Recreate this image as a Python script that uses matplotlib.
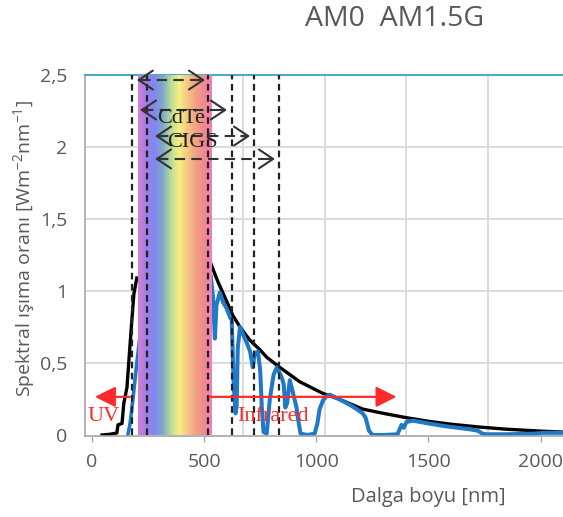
import matplotlib
matplotlib.use("Agg")
import matplotlib.pyplot as plt
import numpy as np
from matplotlib.colors import LinearSegmentedColormap

plt.rcParams['font.family'] = ['Open Sans', 'DejaVu Sans']
plt.rcParams['mathtext.fontset'] = 'custom'
plt.rcParams['mathtext.rm'] = 'Open Sans'

# ---------------- data ----------------
am0_uv_x = [45, 80, 111, 116, 134, 142, 156, 169, 178, 187, 200]
am0_uv_y = [0.0, 0.005, 0.014, 0.07, 0.08, 0.22, 0.33, 0.61, 0.80, 0.98, 1.09]

am0_ir_x = [525, 560, 600, 628, 660, 703, 750, 779, 837, 926, 1028, 1100, 1207,
            1300, 1402, 1500, 1600, 1728, 1850, 2000, 2100]
am0_ir_y = [1.21, 1.07, 0.93, 0.83, 0.75, 0.66, 0.59, 0.54, 0.47, 0.37, 0.29, 0.25,
            0.18, 0.15, 0.12, 0.095, 0.075, 0.055, 0.04, 0.027, 0.02]

am15_uv_x = [160, 170, 182, 200, 215]
am15_uv_y = [0.0, 0.08, 0.24, 0.50, 0.70]

am15_ir_x = [530, 540, 548, 555, 570, 585, 600, 615, 623, 632, 640, 645, 650, 660,
             668, 690, 705, 717, 725, 740, 750, 757, 765, 779, 793, 810, 824, 846,
             855, 862, 870, 882, 895, 912, 920, 930, 960, 993, 1005, 1015, 1030,
             1046, 1060, 1100, 1149, 1180, 1207, 1220, 1235, 1251, 1300, 1362,
             1380, 1390, 1402, 1430, 1500, 1580, 1683, 1720, 1740, 1758, 1850,
             1980, 2010, 2100]
am15_ir_y = [1.10, 0.95, 0.67, 0.90, 0.99, 0.92, 0.88, 0.82, 0.80, 0.35, 0.15, 0.20,
             0.60, 0.75, 0.72, 0.64, 0.58, 0.47, 0.56, 0.58, 0.45, 0.20, 0.02, 0.01,
             0.25, 0.42, 0.47, 0.40, 0.35, 0.19, 0.22, 0.38, 0.30, 0.19, 0.10, 0.01,
             0.0, 0.01, 0.08, 0.18, 0.24, 0.27, 0.28, 0.25, 0.21, 0.18, 0.15, 0.12,
             0.03, 0.0, 0.0, 0.005, 0.07, 0.05, 0.09, 0.10, 0.08, 0.06, 0.04, 0.03,
             0.01, 0.005, 0.005, 0.01, 0.015, 0.015]

visible_band = [207, 535]
band_edges = [180, 245, 517, 624, 722, 836]
ranges = [(200, 504, 2.465), (214, 602, 2.257), (281, 705, 2.076), (281, 816, 1.917)]
range_labels = [("CdTe", 397, 2.20), ("CIGS", 450, 2.03)]
uv_arrow = (170, 13, 0.265)
ir_arrow = (525, 1358, 0.265)
region_labels = [("UV", 53, 0.125), ("Infrared", 806, 0.125)]

x_ticks = [0, 500, 1000, 1500, 2000]
y_ticks = [0, 0.5, 1, 1.5, 2, 2.5]
y_tick_labels = ['0', '0,5', '1', '1,5', '2', '2,5']
v_grid = [312, 673, 1038, 1400, 1765]

# ---------------- figure ----------------
W, H = 563, 517
fig = plt.figure(figsize=(W / 100, H / 100), dpi=100)
ax = fig.add_axes([85 / W, 1 - 436 / H, (563 - 85) / W, (436 - 75) / H])
ax.set_xlim(-31, 2100)
ax.set_ylim(-0.007, 2.5)

grid_c = '#d9d9d9'
for g in [0.5, 1, 1.5, 2]:
    ax.axhline(g, color=grid_c, lw=1.3, zorder=0)
for g in v_grid:
    ax.axvline(g, color=grid_c, lw=1.3, zorder=0)

blue = '#1f78c8'
ax.plot(am15_uv_x, am15_uv_y, color=blue, lw=2.6, zorder=2, solid_joinstyle='round')
ax.plot(am15_ir_x, am15_ir_y, color=blue, lw=2.9, zorder=2, solid_joinstyle='round')
ax.plot(am0_uv_x, am0_uv_y, color='black', lw=2.4, zorder=2.5)
ax.plot(am0_ir_x, am0_ir_y, color='black', lw=2.4, zorder=1.9)

# rainbow band
rb_colors = ['#d87fd8', '#a07fe4', '#7f88f2', '#7fa8c8', '#b8dc98', '#f5f07f',
             '#f5c884', '#f2a284', '#f08a8c', '#f080bc']
cmap = LinearSegmentedColormap.from_list('rb', rb_colors)
grad = np.linspace(0, 1, 256).reshape(1, -1)
ax.imshow(grad, cmap=cmap, extent=[visible_band[0], visible_band[1], 0, 2.5],
          aspect='auto', zorder=3, interpolation='bilinear')

for e in band_edges:
    ax.plot([e, e], [0, 2.5], color='#222222', lw=1.6, ls=(0, (3, 2)), zorder=4)

for x0, x1, yy in ranges:
    ax.plot([x0 + 15, x1 - 15], [yy, yy], color='#333333', lw=1.5,
            ls=(0, (5, 3)), zorder=5)
    for a, b in ((x0 + 40, x0), (x1 - 40, x1)):
        ax.annotate('', xy=(b, yy), xytext=(a, yy),
                    arrowprops=dict(arrowstyle='->,head_length=0.6,head_width=0.4',
                                    color='#333333', lw=1.5, mutation_scale=17,
                                    shrinkA=0, shrinkB=0), zorder=5)

for t, x, y in range_labels:
    ax.text(x, y, t, family='Liberation Serif', fontsize=16, color='#222222',
            ha='center', va='center', zorder=6)

red = '#ff2a2a'
for x0, x1, yy in (uv_arrow, ir_arrow):
    ax.annotate('', xy=(x1, yy), xytext=(x0, yy),
                arrowprops=dict(arrowstyle='-|>,head_length=0.7,head_width=0.35',
                                color=red, lw=1.6, mutation_scale=18,
                                shrinkA=0, shrinkB=0), zorder=6)
for t, x, y in region_labels:
    ax.text(x, y, t, family='Liberation Serif', fontsize=16, color=red,
            ha='center', va='center', zorder=6)

# axes styling
ax.spines['right'].set_visible(False)
ax.spines['top'].set_color('#4bacc6')
ax.spines['top'].set_linewidth(1.5)
ax.spines['left'].set_color('#a6a6a6')
ax.spines['bottom'].set_color('#a6a6a6')
ax.spines['left'].set_linewidth(1.2)
ax.spines['bottom'].set_linewidth(1.2)

ax.set_xticks(x_ticks)
ax.set_xticklabels([str(v) for v in x_ticks])
ax.set_yticks(y_ticks)
ax.set_yticklabels(y_tick_labels)
ax.tick_params(axis='x', length=4, width=1, color='#a6a6a6', labelcolor='#595959',
               labelsize=14, pad=8)
ax.tick_params(axis='y', length=0, labelcolor='#595959', labelsize=14, pad=13)

fig.text(395 / W, 1 - 19 / H, 'AM0  AM1.5G', ha='center', va='center',
         fontsize=20.5, color='#595959')
fig.text(428 / W, 1 - 497 / H, 'Dalga boyu [nm]', ha='center', va='center',
         fontsize=14.5, color='#595959')
fig.text(25 / W, 1 - 248 / H,
         'Spektral ışıma oranı [Wm$^{\\mathregular{-2}}$nm$^{\\mathregular{-1}}$]',
         ha='center', va='center', rotation=90, fontsize=14, color='#595959')

fig.savefig('out.png', dpi=100)
